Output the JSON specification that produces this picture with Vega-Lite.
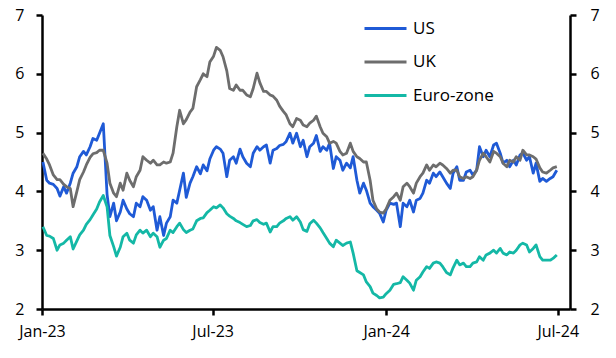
{
  "$schema": "https://vega.github.io/schema/vega-lite/v6.json",
  "width": 528,
  "height": 294,
  "autosize": {"type": "none"},
  "padding": {"left": 42, "top": 15, "right": 46, "bottom": 49},
  "background": "white",
  "config": {"view": {"stroke": null}, "font": "Open Sans"},
  "data": {"values": [
    {"d":"2023-01-02","US":4.50,"UK":4.65,"Euro-zone":3.40},
    {"d":"2023-01-06","US":4.19,"UK":4.55,"Euro-zone":3.25},
    {"d":"2023-01-09","US":4.14,"UK":4.45,"Euro-zone":3.24},
    {"d":"2023-01-13","US":4.12,"UK":4.28,"Euro-zone":3.20},
    {"d":"2023-01-17","US":4.05,"UK":4.20,"Euro-zone":3.00},
    {"d":"2023-01-20","US":3.92,"UK":4.20,"Euro-zone":3.09},
    {"d":"2023-01-24","US":4.08,"UK":4.12,"Euro-zone":3.12},
    {"d":"2023-01-27","US":3.97,"UK":4.08,"Euro-zone":3.17},
    {"d":"2023-01-31","US":4.14,"UK":4.05,"Euro-zone":3.23},
    {"d":"2023-02-03","US":4.31,"UK":3.74,"Euro-zone":3.02},
    {"d":"2023-02-07","US":4.42,"UK":4.00,"Euro-zone":3.16},
    {"d":"2023-02-10","US":4.59,"UK":4.20,"Euro-zone":3.26},
    {"d":"2023-02-14","US":4.68,"UK":4.33,"Euro-zone":3.34},
    {"d":"2023-02-17","US":4.62,"UK":4.45,"Euro-zone":3.44},
    {"d":"2023-02-21","US":4.76,"UK":4.58,"Euro-zone":3.52},
    {"d":"2023-02-24","US":4.90,"UK":4.64,"Euro-zone":3.60},
    {"d":"2023-02-28","US":4.87,"UK":4.66,"Euro-zone":3.70},
    {"d":"2023-03-03","US":4.99,"UK":4.70,"Euro-zone":3.82},
    {"d":"2023-03-07","US":5.15,"UK":4.70,"Euro-zone":3.93},
    {"d":"2023-03-11","US":3.95,"UK":4.48,"Euro-zone":3.74},
    {"d":"2023-03-14","US":3.57,"UK":4.14,"Euro-zone":3.25},
    {"d":"2023-03-18","US":3.80,"UK":3.97,"Euro-zone":3.06},
    {"d":"2023-03-21","US":3.50,"UK":3.91,"Euro-zone":2.90},
    {"d":"2023-03-25","US":3.65,"UK":4.14,"Euro-zone":3.05},
    {"d":"2023-03-28","US":3.85,"UK":4.02,"Euro-zone":3.23},
    {"d":"2023-04-01","US":3.70,"UK":4.31,"Euro-zone":3.29},
    {"d":"2023-04-04","US":3.62,"UK":4.19,"Euro-zone":3.17},
    {"d":"2023-04-08","US":3.57,"UK":4.08,"Euro-zone":3.12},
    {"d":"2023-04-11","US":3.80,"UK":4.25,"Euro-zone":3.26},
    {"d":"2023-04-15","US":3.74,"UK":4.36,"Euro-zone":3.34},
    {"d":"2023-04-18","US":3.91,"UK":4.59,"Euro-zone":3.29},
    {"d":"2023-04-22","US":3.85,"UK":4.53,"Euro-zone":3.34},
    {"d":"2023-04-26","US":3.68,"UK":4.48,"Euro-zone":3.23},
    {"d":"2023-04-29","US":3.74,"UK":4.53,"Euro-zone":3.29},
    {"d":"2023-05-03","US":3.34,"UK":4.45,"Euro-zone":3.23},
    {"d":"2023-05-06","US":3.57,"UK":4.45,"Euro-zone":3.05},
    {"d":"2023-05-10","US":3.25,"UK":4.50,"Euro-zone":3.17},
    {"d":"2023-05-13","US":3.46,"UK":4.48,"Euro-zone":3.20},
    {"d":"2023-05-17","US":3.57,"UK":4.50,"Euro-zone":3.34},
    {"d":"2023-05-20","US":3.85,"UK":4.65,"Euro-zone":3.30},
    {"d":"2023-05-24","US":3.80,"UK":5.10,"Euro-zone":3.40},
    {"d":"2023-05-27","US":4.02,"UK":5.38,"Euro-zone":3.46},
    {"d":"2023-05-31","US":4.31,"UK":5.15,"Euro-zone":3.35},
    {"d":"2023-06-03","US":3.90,"UK":5.22,"Euro-zone":3.30},
    {"d":"2023-06-07","US":4.14,"UK":5.35,"Euro-zone":3.34},
    {"d":"2023-06-10","US":4.25,"UK":5.41,"Euro-zone":3.36},
    {"d":"2023-06-14","US":4.42,"UK":5.78,"Euro-zone":3.50},
    {"d":"2023-06-18","US":4.30,"UK":5.90,"Euro-zone":3.54},
    {"d":"2023-06-21","US":4.45,"UK":6.00,"Euro-zone":3.55},
    {"d":"2023-06-25","US":4.35,"UK":5.95,"Euro-zone":3.64},
    {"d":"2023-06-28","US":4.55,"UK":6.20,"Euro-zone":3.68},
    {"d":"2023-07-02","US":4.70,"UK":6.30,"Euro-zone":3.74},
    {"d":"2023-07-05","US":4.76,"UK":6.45,"Euro-zone":3.72},
    {"d":"2023-07-09","US":4.72,"UK":6.40,"Euro-zone":3.77},
    {"d":"2023-07-12","US":4.65,"UK":6.29,"Euro-zone":3.72},
    {"d":"2023-07-16","US":4.25,"UK":6.05,"Euro-zone":3.62},
    {"d":"2023-07-19","US":4.53,"UK":5.75,"Euro-zone":3.58},
    {"d":"2023-07-23","US":4.59,"UK":5.72,"Euro-zone":3.54},
    {"d":"2023-07-26","US":4.48,"UK":5.81,"Euro-zone":3.50},
    {"d":"2023-07-30","US":4.72,"UK":5.72,"Euro-zone":3.47},
    {"d":"2023-08-02","US":4.59,"UK":5.72,"Euro-zone":3.44},
    {"d":"2023-08-06","US":4.48,"UK":5.64,"Euro-zone":3.40},
    {"d":"2023-08-10","US":4.42,"UK":5.61,"Euro-zone":3.42},
    {"d":"2023-08-13","US":4.65,"UK":5.75,"Euro-zone":3.50},
    {"d":"2023-08-17","US":4.76,"UK":6.01,"Euro-zone":3.52},
    {"d":"2023-08-20","US":4.70,"UK":5.85,"Euro-zone":3.47},
    {"d":"2023-08-24","US":4.76,"UK":5.70,"Euro-zone":3.44},
    {"d":"2023-08-27","US":4.79,"UK":5.70,"Euro-zone":3.46},
    {"d":"2023-08-31","US":4.48,"UK":5.64,"Euro-zone":3.31},
    {"d":"2023-09-03","US":4.70,"UK":5.62,"Euro-zone":3.40},
    {"d":"2023-09-07","US":4.73,"UK":5.55,"Euro-zone":3.40},
    {"d":"2023-09-10","US":4.78,"UK":5.45,"Euro-zone":3.46},
    {"d":"2023-09-14","US":4.80,"UK":5.36,"Euro-zone":3.50},
    {"d":"2023-09-17","US":4.85,"UK":5.30,"Euro-zone":3.54},
    {"d":"2023-09-21","US":4.99,"UK":5.15,"Euro-zone":3.57},
    {"d":"2023-09-24","US":4.82,"UK":5.10,"Euro-zone":3.51},
    {"d":"2023-09-28","US":4.99,"UK":5.24,"Euro-zone":3.57},
    {"d":"2023-10-02","US":4.76,"UK":5.21,"Euro-zone":3.48},
    {"d":"2023-10-05","US":4.87,"UK":5.13,"Euro-zone":3.35},
    {"d":"2023-10-09","US":4.59,"UK":5.10,"Euro-zone":3.32},
    {"d":"2023-10-12","US":4.76,"UK":5.16,"Euro-zone":3.45},
    {"d":"2023-10-16","US":4.82,"UK":5.21,"Euro-zone":3.51},
    {"d":"2023-10-19","US":4.95,"UK":5.28,"Euro-zone":3.46},
    {"d":"2023-10-23","US":4.68,"UK":5.10,"Euro-zone":3.38},
    {"d":"2023-10-26","US":4.76,"UK":4.99,"Euro-zone":3.30},
    {"d":"2023-10-30","US":4.70,"UK":4.93,"Euro-zone":3.20},
    {"d":"2023-11-02","US":4.82,"UK":4.82,"Euro-zone":3.12},
    {"d":"2023-11-06","US":4.39,"UK":4.85,"Euro-zone":3.06},
    {"d":"2023-11-09","US":4.59,"UK":4.82,"Euro-zone":3.17},
    {"d":"2023-11-13","US":4.53,"UK":4.68,"Euro-zone":3.12},
    {"d":"2023-11-16","US":4.36,"UK":4.62,"Euro-zone":3.08},
    {"d":"2023-11-20","US":4.48,"UK":4.65,"Euro-zone":3.12},
    {"d":"2023-11-24","US":4.40,"UK":4.82,"Euro-zone":3.14},
    {"d":"2023-11-27","US":4.59,"UK":4.68,"Euro-zone":2.95},
    {"d":"2023-12-01","US":4.19,"UK":4.59,"Euro-zone":2.65},
    {"d":"2023-12-04","US":3.97,"UK":4.56,"Euro-zone":2.62},
    {"d":"2023-12-08","US":4.14,"UK":4.50,"Euro-zone":2.58},
    {"d":"2023-12-11","US":4.02,"UK":4.50,"Euro-zone":2.46},
    {"d":"2023-12-15","US":3.80,"UK":4.19,"Euro-zone":2.38},
    {"d":"2023-12-18","US":3.74,"UK":3.85,"Euro-zone":2.27},
    {"d":"2023-12-22","US":3.68,"UK":3.70,"Euro-zone":2.23},
    {"d":"2023-12-25","US":3.63,"UK":3.65,"Euro-zone":2.19},
    {"d":"2023-12-29","US":3.48,"UK":3.63,"Euro-zone":2.20},
    {"d":"2024-01-01","US":3.68,"UK":3.70,"Euro-zone":2.26},
    {"d":"2024-01-05","US":3.80,"UK":3.85,"Euro-zone":2.32},
    {"d":"2024-01-09","US":3.78,"UK":3.91,"Euro-zone":2.42},
    {"d":"2024-01-12","US":3.80,"UK":3.97,"Euro-zone":2.43},
    {"d":"2024-01-16","US":3.40,"UK":3.85,"Euro-zone":2.45},
    {"d":"2024-01-19","US":3.80,"UK":4.08,"Euro-zone":2.55},
    {"d":"2024-01-23","US":3.74,"UK":4.14,"Euro-zone":2.49},
    {"d":"2024-01-26","US":3.85,"UK":4.08,"Euro-zone":2.44},
    {"d":"2024-01-30","US":3.65,"UK":3.97,"Euro-zone":2.32},
    {"d":"2024-02-02","US":3.85,"UK":4.14,"Euro-zone":2.49},
    {"d":"2024-02-06","US":3.88,"UK":4.25,"Euro-zone":2.55},
    {"d":"2024-02-09","US":3.97,"UK":4.31,"Euro-zone":2.63},
    {"d":"2024-02-13","US":4.19,"UK":4.45,"Euro-zone":2.72},
    {"d":"2024-02-16","US":4.14,"UK":4.36,"Euro-zone":2.69},
    {"d":"2024-02-20","US":4.31,"UK":4.45,"Euro-zone":2.78},
    {"d":"2024-02-23","US":4.25,"UK":4.42,"Euro-zone":2.80},
    {"d":"2024-02-27","US":4.33,"UK":4.48,"Euro-zone":2.78},
    {"d":"2024-03-01","US":4.25,"UK":4.45,"Euro-zone":2.72},
    {"d":"2024-03-05","US":4.14,"UK":4.39,"Euro-zone":2.62},
    {"d":"2024-03-09","US":4.05,"UK":4.31,"Euro-zone":2.58},
    {"d":"2024-03-12","US":4.31,"UK":4.36,"Euro-zone":2.70},
    {"d":"2024-03-16","US":4.42,"UK":4.36,"Euro-zone":2.83},
    {"d":"2024-03-19","US":4.19,"UK":4.25,"Euro-zone":2.75},
    {"d":"2024-03-23","US":4.19,"UK":4.22,"Euro-zone":2.78},
    {"d":"2024-03-26","US":4.33,"UK":4.25,"Euro-zone":2.72},
    {"d":"2024-03-30","US":4.36,"UK":4.22,"Euro-zone":2.72},
    {"d":"2024-04-02","US":4.28,"UK":4.25,"Euro-zone":2.78},
    {"d":"2024-04-06","US":4.36,"UK":4.36,"Euro-zone":2.80},
    {"d":"2024-04-09","US":4.76,"UK":4.53,"Euro-zone":2.89},
    {"d":"2024-04-13","US":4.59,"UK":4.65,"Euro-zone":2.83},
    {"d":"2024-04-16","US":4.70,"UK":4.59,"Euro-zone":2.92},
    {"d":"2024-04-20","US":4.59,"UK":4.50,"Euro-zone":2.95},
    {"d":"2024-04-24","US":4.79,"UK":4.68,"Euro-zone":3.00},
    {"d":"2024-04-27","US":4.82,"UK":4.65,"Euro-zone":2.95},
    {"d":"2024-05-01","US":4.65,"UK":4.59,"Euro-zone":3.03},
    {"d":"2024-05-04","US":4.48,"UK":4.48,"Euro-zone":2.95},
    {"d":"2024-05-08","US":4.53,"UK":4.42,"Euro-zone":2.92},
    {"d":"2024-05-11","US":4.42,"UK":4.53,"Euro-zone":2.97},
    {"d":"2024-05-15","US":4.53,"UK":4.50,"Euro-zone":2.95},
    {"d":"2024-05-18","US":4.45,"UK":4.59,"Euro-zone":3.00},
    {"d":"2024-05-22","US":4.62,"UK":4.53,"Euro-zone":3.09},
    {"d":"2024-05-25","US":4.65,"UK":4.70,"Euro-zone":3.12},
    {"d":"2024-05-29","US":4.53,"UK":4.62,"Euro-zone":3.09},
    {"d":"2024-06-01","US":4.59,"UK":4.62,"Euro-zone":2.97},
    {"d":"2024-06-05","US":4.31,"UK":4.59,"Euro-zone":3.03},
    {"d":"2024-06-08","US":4.48,"UK":4.55,"Euro-zone":3.09},
    {"d":"2024-06-12","US":4.17,"UK":4.40,"Euro-zone":2.89},
    {"d":"2024-06-15","US":4.22,"UK":4.33,"Euro-zone":2.83},
    {"d":"2024-06-19","US":4.17,"UK":4.31,"Euro-zone":2.83},
    {"d":"2024-06-23","US":4.22,"UK":4.36,"Euro-zone":2.83},
    {"d":"2024-06-26","US":4.25,"UK":4.40,"Euro-zone":2.86},
    {"d":"2024-06-30","US":4.36,"UK":4.42,"Euro-zone":2.92}
  ]},
  "transform": [{"fold": ["US", "UK", "Euro-zone"], "as": ["series", "value"]}],
  "encoding": {
    "x": {
      "field": "d", "type": "temporal",
      "scale": {"domain": [{"year": 2023, "month": 1, "date": 1}, {"year": 2024, "month": 7, "date": 14}]},
      "axis": {
        "title": null, "grid": false, "format": "%b-%y",
        "values": [{"year": 2023, "month": 1, "date": 1}, {"year": 2023, "month": 7, "date": 1}, {"year": 2024, "month": 1, "date": 1}, {"year": 2024, "month": 7, "date": 1}],
        "domainColor": "black", "domainWidth": 2.5, "tickColor": "black", "tickWidth": 2.5, "tickSize": 6,
        "labelFontSize": 16, "labelColor": "black", "labelPadding": 8, "labelFont": "Open Sans", "labelFlush": false
      }
    },
    "y": {
      "field": "value", "type": "quantitative",
      "scale": {"domain": [2, 7], "nice": false, "zero": false}
    }
  },
  "layer": [
    {
      "mark": {"type": "line", "strokeWidth": 2.8, "strokeJoin": "round"},
      "encoding": {
        "y": {
          "field": "value", "type": "quantitative",
          "scale": {"domain": [2, 7], "nice": false, "zero": false},
          "axis": {
            "orient": "left", "title": null, "grid": false, "values": [2, 3, 4, 5, 6, 7],
            "domainColor": "black", "domainWidth": 2.5, "tickColor": "black", "tickWidth": 2.5, "tickSize": 6,
            "labelFontSize": 16, "labelColor": "black", "labelPadding": 12, "labelFont": "Open Sans"
          }
        },
        "color": {
          "field": "series", "type": "nominal",
          "scale": {"domain": ["US", "UK", "Euro-zone"], "range": ["#1f5ad6", "#6d6d6d", "#14b8a6"]},
          "legend": {
            "orient": "none", "legendX": 321, "legendY": -9, "title": null,
            "symbolType": "stroke", "symbolSize": 1764, "symbolStrokeWidth": 3,
            "labelFontSize": 17, "labelFont": "Open Sans", "labelColor": "black", "labelOffset": 5, "rowPadding": 2.5
          }
        }
      }
    },
    {
      "mark": {"type": "line", "opacity": 0},
      "encoding": {
        "y": {
          "field": "value", "type": "quantitative",
          "scale": {"domain": [2, 7], "nice": false, "zero": false},
          "axis": {
            "orient": "right", "title": null, "grid": false, "values": [2, 3, 4, 5, 6, 7],
            "domainColor": "black", "domainWidth": 2.5, "tickColor": "black", "tickWidth": 2.5, "tickSize": 6,
            "labelFontSize": 16, "labelColor": "black", "labelPadding": 14, "labelFont": "Open Sans"
          }
        },
        "detail": {"field": "series"}
      }
    }
  ],
  "resolve": {"scale": {"y": "shared"}, "axis": {"y": "independent"}}
}
